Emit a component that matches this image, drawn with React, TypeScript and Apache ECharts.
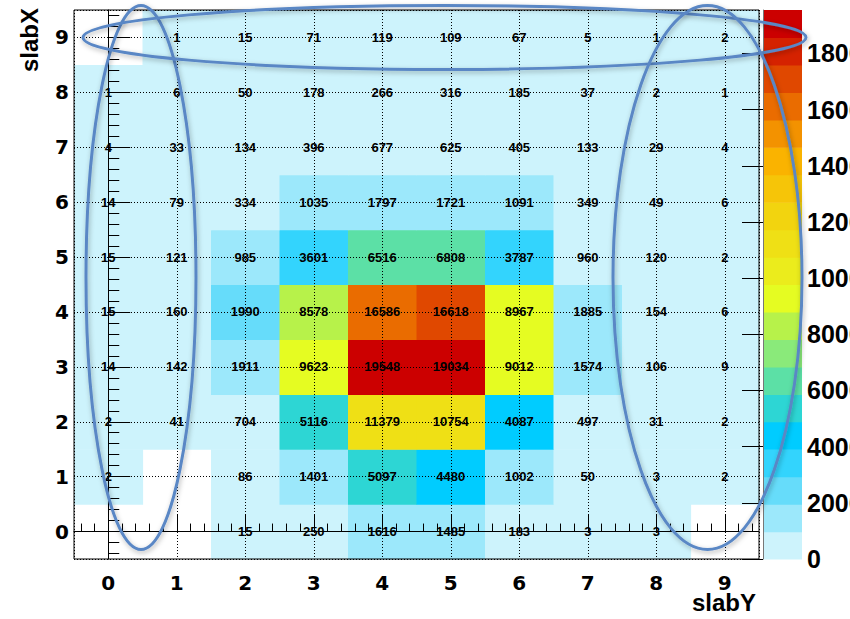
import React, { useEffect, useRef } from 'react';
import * as echarts from 'echarts';

// slabY (x axis) and slabX (y axis) bin centres
const slabYBins = [0, 1, 2, 3, 4, 5, 6, 7, 8, 9];
const slabXBins = [0, 1, 2, 3, 4, 5, 6, 7, 8, 9];

// bin contents, one array per slabX row, indexed by slabY
const row0 = [0, 0, 15, 250, 1616, 1485, 183, 3, 3, 0];
const row1 = [2, 0, 86, 1401, 5097, 4480, 1002, 50, 3, 2];
const row2 = [2, 41, 704, 5116, 11379, 10754, 4087, 497, 31, 2];
const row3 = [14, 142, 1911, 9623, 19548, 19034, 9012, 1574, 106, 9];
const row4 = [15, 160, 1990, 8578, 16586, 16618, 8967, 1885, 154, 6];
const row5 = [15, 121, 985, 3601, 6516, 6808, 3787, 960, 120, 2];
const row6 = [14, 79, 334, 1035, 1797, 1721, 1091, 349, 49, 6];
const row7 = [4, 33, 134, 396, 677, 625, 405, 133, 29, 4];
const row8 = [1, 6, 50, 178, 266, 316, 185, 37, 2, 1];
const row9 = [0, 1, 15, 71, 119, 109, 67, 5, 1, 2];
const rows = [row0, row1, row2, row3, row4, row5, row6, row7, row8, row9];

// colour scale ticks
const colorTickValues = [0, 2000, 4000, 6000, 8000, 10000, 12000, 14000, 16000, 18000];

// 20 contour colours, bottom to top
const bandColors = [
  '#cdf3fc', '#9ce8fb', '#66dcfa', '#33d4fd', '#00ccff',
  '#2dd6d4', '#5ce0a6', '#8aea7a', '#b7f24a', '#e5fc22',
  '#ebec1c', '#efe015', '#f2d40f', '#f6c508', '#fab300',
  '#f39200', '#ea6c00', '#e04800', '#d52200', '#cc0000',
];

const nContours = bandColors.length;
const zMax = Math.max(...rows.map((r) => Math.max(...r)));
const step = zMax / nContours;

const minorTicks: number[] = [];
for (let i = -0.5; i < 9.5 - 1e-9; i += 0.2) {
  const v = Math.round((i + 0.1) * 10) / 10;
  if (Math.abs(v - Math.round(v)) > 1e-6 && v > -0.5 && v < 9.5) minorTicks.push(v);
}

export default function App() {
  const ref = useRef<HTMLDivElement>(null);
  useEffect(() => {
    if (!ref.current) return;
    const chart = echarts.init(ref.current, undefined, { renderer: 'svg' });

    const cellData: number[][] = [];
    slabXBins.forEach((yv, yi) => {
      slabYBins.forEach((xv, xi) => {
        const v = rows[yi][xi];
        if (v > 0) cellData.push([xv, yv, v]);
      });
    });

    const bandData = bandColors.map((_, i) => [i]);
    const axisFont = { fontFamily: 'DejaVu Sans', fontWeight: 'bold' as const, fontSize: 20, color: '#000', lineHeight: 14 };

    chart.setOption({
      animation: false,
      backgroundColor: '#fff',
      grid: [
        { left: 74, top: 10, width: 685, height: 549, show: true, borderColor: '#000', borderWidth: 1, backgroundColor: 'transparent', containLabel: false, outerBoundsMode: 'none' },
        { left: 763, top: 10, width: 39, height: 549, show: false, containLabel: false, outerBoundsMode: 'none' },
      ],
      xAxis: [
        {
          type: 'value', gridIndex: 0, min: -0.5, max: 9.5, splitNumber: 10, position: 'bottom',
          axisLine: { show: true, lineStyle: { color: '#000', width: 1 } },
          axisTick: { show: true, inside: true, length: 17, lineStyle: { color: '#000', width: 1 } },
          axisLabel: { ...axisFont, margin: 17, showMinLabel: false, showMaxLabel: false, formatter: (v: number) => String(v) },
          splitLine: { show: true, lineStyle: { color: '#000', width: 1, type: [1, 2] } },
        },
        {
          type: 'value', gridIndex: 0, min: -0.5, max: 9.5, position: 'bottom',
          axisLine: { show: false },
          axisTick: { show: true, inside: true, length: 8, customValues: minorTicks, lineStyle: { color: '#000', width: 1 } },
          axisLabel: { show: false },
          splitLine: { show: false },
        },
        { type: 'value', gridIndex: 1, min: 0, max: 1, show: false },
      ],
      yAxis: [
        {
          type: 'value', gridIndex: 0, min: -0.5, max: 9.5, splitNumber: 10, position: 'left',
          axisLine: { show: true, lineStyle: { color: '#000', width: 1 } },
          axisTick: { show: true, inside: true, length: 22, lineStyle: { color: '#000', width: 1 } },
          axisLabel: { ...axisFont, margin: 5, showMinLabel: false, showMaxLabel: false, formatter: (v: number) => String(v) },
          splitLine: { show: true, lineStyle: { color: '#000', width: 1, type: [1, 2] } },
        },
        {
          type: 'value', gridIndex: 0, min: -0.5, max: 9.5, position: 'left',
          axisLine: { show: false },
          axisTick: { show: true, inside: true, length: 11, customValues: minorTicks, lineStyle: { color: '#000', width: 1 } },
          axisLabel: { show: false },
          splitLine: { show: false },
        },
        {
          type: 'value', gridIndex: 1, min: 0, max: zMax, position: 'right',
          axisLine: { show: true, lineStyle: { color: '#777', width: 1 } },
          axisTick: { show: true, inside: true, length: 21, customValues: colorTickValues, lineStyle: { color: '#000', width: 1 } },
          axisLabel: {
            customValues: colorTickValues, margin: 5, fontFamily: 'Liberation Sans', fontWeight: 'bold', fontSize: 25, color: '#000',
            formatter: (v: number) => String(v),
          },
          splitLine: { show: false },
        },
      ],
      series: [
        {
          type: 'custom', name: 'cells', xAxisIndex: 0, yAxisIndex: 0, z: -1, data: cellData,
          renderItem: (params: any, api: any) => {
            const x = api.value(0), y = api.value(1), v = api.value(2);
            const p0 = api.coord([x - 0.5, y + 0.5]);
            const p1 = api.coord([x + 0.5, y - 0.5]);
            const band = Math.min(nContours - 1, Math.floor(v / step));
            return {
              type: 'rect',
              shape: { x: p0[0], y: p0[1], width: p1[0] - p0[0] + 0.6, height: p1[1] - p0[1] + 0.6 },
              style: { fill: bandColors[band] },
            };
          },
        },
        {
          type: 'custom', name: 'texts', xAxisIndex: 0, yAxisIndex: 0, z: 5, data: cellData,
          renderItem: (params: any, api: any) => {
            const x = api.value(0), y = api.value(1), v = api.value(2);
            const p = api.coord([x, y]);
            return {
              type: 'text',
              x: p[0], y: p[1],
              style: {
                text: String(v), fill: '#000', align: 'center', verticalAlign: 'middle',
                font: 'bold 13px "Liberation Sans", Arial, sans-serif',
              },
            };
          },
        },
        {
          type: 'custom', name: 'palette', xAxisIndex: 2, yAxisIndex: 2, z: -1, data: bandData,
          renderItem: (params: any, api: any) => {
            const i = api.value(0);
            const p0 = api.coord([0, (i + 1) * step]);
            const p1 = api.coord([1, i * step]);
            return {
              type: 'rect',
              shape: { x: p0[0], y: p0[1], width: p1[0] - p0[0], height: p1[1] - p0[1] + 0.6 },
              style: { fill: bandColors[i] },
            };
          },
        },
      ],
      graphic: [
        {
          type: 'text', x: 29, y: 8, rotation: Math.PI / 2, z: 50,
          style: { text: 'slabX', align: 'right', verticalAlign: 'middle', font: 'bold 24px "Liberation Sans", Arial, sans-serif', fill: '#000' },
        },
        {
          type: 'text', x: 756, y: 593, z: 50,
          style: { text: 'slabY', align: 'right', verticalAlign: 'top', lineHeight: 19, font: 'bold 24px "Liberation Sans", Arial, sans-serif', fill: '#000' },
        },
        {
          type: 'ellipse', z: 100, shape: { cx: 141, cy: 277.5, rx: 55, ry: 272 },
          style: { fill: 'none', stroke: '#5a87c5', lineWidth: 3, shadowBlur: 5, shadowColor: 'rgba(0,0,0,0.3)', shadowOffsetX: 1, shadowOffsetY: 2 },
        },
        {
          type: 'ellipse', z: 100, shape: { cx: 444.5, cy: 37.5, rx: 361.5, ry: 32 },
          style: { fill: 'none', stroke: '#5a87c5', lineWidth: 3, shadowBlur: 5, shadowColor: 'rgba(0,0,0,0.3)', shadowOffsetX: 1, shadowOffsetY: 2 },
        },
        {
          type: 'ellipse', z: 100, shape: { cx: 707.5, cy: 277.5, rx: 94.5, ry: 272 },
          style: { fill: 'none', stroke: '#5a87c5', lineWidth: 3, shadowBlur: 5, shadowColor: 'rgba(0,0,0,0.3)', shadowOffsetX: 1, shadowOffsetY: 2 },
        },
      ],
    });
    return () => chart.dispose();
  }, []);
  return <div ref={ref} style={{ position: 'fixed', left: 0, top: 0, width: 850, height: 619 }} />;
}
